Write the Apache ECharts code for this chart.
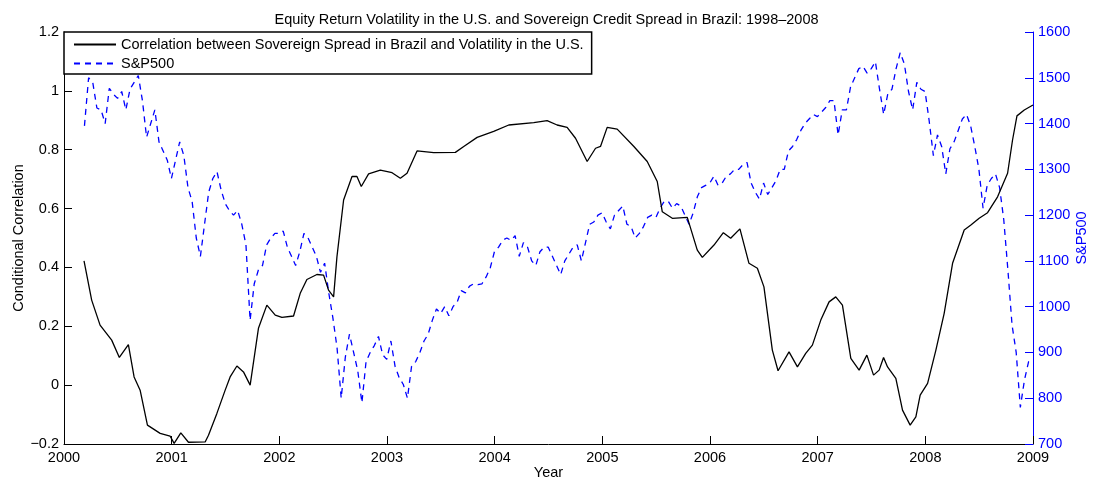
<!DOCTYPE html>
<html>
<head>
<meta charset="utf-8">
<title>Equity Return Volatility in the U.S. and Sovereign Credit Spread in Brazil</title>
<script src="https://cdn.jsdelivr.net/npm/echarts@6/dist/echarts.min.js"></script>
<style>
html, body { margin: 0; padding: 0; background: #fff; }
#chart { width: 1093px; height: 481px; }
</style>
</head>
<body>
<div id="chart"></div>
<script>
// conditional correlation (black solid line)
var corrYears = [
    2000.186, 2000.257, 2000.335, 2000.443, 2000.514, 2000.598, 2000.651, 2000.707, 2000.775, 2000.893,
    2000.985, 2001.023, 2001.085, 2001.156, 2001.311, 2001.342, 2001.420, 2001.497, 2001.543, 2001.606,
    2001.667, 2001.729, 2001.806, 2001.884, 2001.962, 2002.024, 2002.132, 2002.194, 2002.256, 2002.349,
    2002.411, 2002.457, 2002.504, 2002.535, 2002.597, 2002.675, 2002.721, 2002.761, 2002.829, 2002.938,
    2003.047, 2003.124, 2003.186, 2003.279, 2003.434, 2003.635, 2003.713, 2003.837, 2003.991, 2004.131,
    2004.363, 2004.487, 2004.580, 2004.673, 2004.751, 2004.859, 2004.937, 2004.983, 2005.045, 2005.138,
    2005.293, 2005.417, 2005.510, 2005.557, 2005.650, 2005.789, 2005.882, 2005.929, 2006.037, 2006.124,
    2006.192, 2006.278, 2006.362, 2006.440, 2006.501, 2006.579, 2006.632, 2006.734, 2006.812, 2006.889,
    2006.951, 2007.029, 2007.106, 2007.168, 2007.230, 2007.308, 2007.385, 2007.457, 2007.519, 2007.571,
    2007.612, 2007.649, 2007.726, 2007.788, 2007.859, 2007.912, 2007.952, 2008.021, 2008.098, 2008.175,
    2008.253, 2008.361, 2008.423, 2008.500, 2008.578, 2008.671, 2008.764, 2008.810, 2008.851, 2008.919,
    2009.000
];
var corrValues = [
    0.422, 0.289, 0.204, 0.153, 0.094, 0.138, 0.028, -0.017, -0.136, -0.164,
    -0.173, -0.198, -0.162, -0.194, -0.193, -0.170, -0.096, -0.017, 0.028, 0.065,
    0.045, 0.000, 0.193, 0.272, 0.238, 0.230, 0.235, 0.312, 0.359, 0.376,
    0.374, 0.323, 0.300, 0.436, 0.629, 0.709, 0.709, 0.675, 0.718, 0.731,
    0.722, 0.703, 0.720, 0.796, 0.790, 0.791, 0.811, 0.842, 0.862, 0.884,
    0.892, 0.899, 0.884, 0.876, 0.839, 0.760, 0.805, 0.811, 0.876, 0.870,
    0.811, 0.760, 0.692, 0.589, 0.567, 0.570, 0.459, 0.434, 0.476, 0.518,
    0.499, 0.531, 0.414, 0.397, 0.334, 0.119, 0.049, 0.113, 0.062, 0.108,
    0.136, 0.221, 0.283, 0.300, 0.272, 0.091, 0.051, 0.102, 0.034, 0.051,
    0.094, 0.062, 0.023, -0.085, -0.136, -0.108, -0.034, 0.006, 0.119, 0.244,
    0.414, 0.527, 0.544, 0.567, 0.586, 0.640, 0.720, 0.833, 0.915, 0.935,
    0.952
];

// S&P500 (blue dashed line), one reading every two weeks from March 2000
var spStart = 2000.19;
var spStep = 1 / 26;
var spValues = [
    // 2000
    1395, 1500, 1490, 1434, 1430, 1400, 1477, 1464, 1455, 1470, 1430, 1475, 1490, 1505, 1450, 1370,
    1400, 1430, 1360, 1340, 1320,
    // 2001
    1280, 1320, 1360, 1330, 1260, 1230, 1150, 1110, 1180, 1250, 1280, 1295, 1255, 1225, 1210, 1200,
    1210, 1180, 1135, 970, 1050, 1080, 1090, 1135, 1150, 1160,
    // 2002
    1160, 1165, 1130, 1110, 1090, 1120, 1160, 1150, 1130, 1110, 1075, 1095, 1030, 975, 910, 800,
    890, 940, 900, 860, 790, 880, 900, 915, 935, 895,
    // 2003
    885, 925, 870, 845, 830, 800, 870, 880, 900, 925, 940, 970, 995, 985, 1000, 980,
    1000, 1010, 1035, 1030, 1045, 1050, 1048, 1050, 1065, 1085,
    // 2004
    1120, 1130, 1145, 1150, 1145, 1155, 1110, 1140, 1130, 1100, 1090, 1120, 1130, 1130, 1110, 1090,
    1070, 1100, 1115, 1130, 1135, 1100, 1140, 1180, 1185, 1200,
    // 2005
    1205, 1185, 1170, 1200, 1210, 1220, 1180, 1175, 1150, 1160, 1175, 1195, 1200, 1195, 1215, 1230,
    1230, 1215, 1225, 1220, 1200, 1180, 1205, 1240, 1260, 1265,
    // 2006
    1270, 1285, 1265, 1270, 1285, 1290, 1300, 1300, 1310, 1315, 1270, 1250, 1235, 1270, 1245, 1260,
    1275, 1300, 1300, 1340, 1350, 1365, 1385, 1400, 1410, 1420,
    // 2007
    1415, 1425, 1435, 1450, 1450, 1375, 1430, 1430, 1480, 1500, 1520, 1525, 1510, 1520, 1535, 1475,
    1420, 1465, 1475, 1520, 1555, 1530, 1470, 1430, 1490, 1475,
    // 2008
    1470, 1405, 1330, 1375, 1350, 1290, 1345, 1360, 1385, 1410, 1420, 1395, 1350, 1300, 1215, 1265,
    1280, 1290, 1260, 1190, 1080, 960, 900, 780, 840, 880, 875
];

var corrLabel = 'Correlation between Sovereign Spread in Brazil and Volatility in the U.S.';
var spLabel = 'S&P500';

var font = '"Liberation Sans", Arial, Helvetica, sans-serif';
var fontSize = 14.5;
var blue = '#0000ff';

var corrData = corrYears.map(function(y, i) { return [y, corrValues[i]]; });
var spData = spValues.map(function(v, i) { return [spStart + i * spStep, v]; });

var chart = echarts.init(document.getElementById('chart'), null, { renderer: 'canvas' });

var option = {
    backgroundColor: '#fff',
    animation: false,
    textStyle: { fontFamily: font },
    title: {
        text: 'Equity Return Volatility in the U.S. and Sovereign Credit Spread in Brazil: 1998\u20132008',
        left: 'center',
        top: 7,
        textStyle: { fontFamily: font, fontSize: fontSize, fontWeight: 'normal', color: '#000' }
    },
    legend: {
        orient: 'vertical',
        left: 64,
        top: 32,
        padding: [5, 8, 3, 9],
        itemGap: 4,
        itemWidth: 42,
        itemHeight: 16,
        itemTextGap: 5,
        // hide the marker dot, keep only the line sample
        itemStyle: { opacity: 0 },
        backgroundColor: '#fff',
        borderColor: '#000',
        borderWidth: 1.5,
        borderRadius: 0,
        textStyle: { fontFamily: font, fontSize: fontSize, color: '#000' },
        data: [corrLabel, spLabel]
    },
    grid: { left: 64, right: 60, top: 32, bottom: 37, outerBoundsMode: 'none' },
    xAxis: {
        type: 'value',
        min: 2000,
        max: 2009,
        interval: 1,
        name: 'Year',
        nameLocation: 'middle',
        nameGap: 21,
        nameMoveOverlap: false,
        nameTextStyle: { fontFamily: font, fontSize: fontSize, color: '#000' },
        axisLine: { onZero: false, lineStyle: { color: '#000', width: 1 } },
        axisTick: { inside: true, length: 8, lineStyle: { color: '#000' } },
        axisLabel: {
            margin: 6,
            fontSize: fontSize,
            color: '#000',
            fontFamily: font,
            formatter: function(v) { return String(v); }
        },
        splitLine: { show: false }
    },
    yAxis: [
        {
            type: 'value',
            min: -0.2,
            max: 1.2,
            interval: 0.2,
            position: 'left',
            name: 'Conditional Correlation',
            nameLocation: 'middle',
            nameGap: 38,
            nameMoveOverlap: false,
            nameTextStyle: { fontFamily: font, fontSize: fontSize, color: '#000' },
            axisLine: { show: true, onZero: false, lineStyle: { color: '#000', width: 1 } },
            axisTick: { show: true, inside: true, length: 8, lineStyle: { color: '#000' } },
            axisLabel: {
                margin: 5,
                fontSize: fontSize,
                color: '#000',
                fontFamily: font,
                formatter: function(v) {
                    return String(Math.round(v * 10) / 10).replace('-', '\u2212');
                }
            },
            splitLine: { show: false }
        },
        {
            type: 'value',
            min: 700,
            max: 1600,
            interval: 100,
            position: 'right',
            name: 'S&P500',
            nameLocation: 'middle',
            nameGap: 41,
            nameRotate: 90,
            nameMoveOverlap: false,
            nameTextStyle: { fontFamily: font, fontSize: fontSize, color: blue },
            axisLine: { show: true, onZero: false, lineStyle: { color: blue, width: 1 } },
            axisTick: { show: true, inside: true, length: 8, lineStyle: { color: blue } },
            axisLabel: {
                margin: 5,
                fontSize: fontSize,
                color: blue,
                fontFamily: font,
                formatter: function(v) { return String(v); }
            },
            splitLine: { show: false }
        }
    ],
    series: [
        {
            name: corrLabel,
            type: 'line',
            yAxisIndex: 0,
            data: corrData,
            symbol: 'none',
            lineStyle: { color: '#000', width: 1.3 },
            itemStyle: { color: '#000' },
            z: 3
        },
        {
            name: spLabel,
            type: 'line',
            yAxisIndex: 1,
            data: spData,
            symbol: 'none',
            lineStyle: { color: blue, width: 1.3, type: [6, 5] },
            itemStyle: { color: blue },
            z: 2
        }
    ]
};

chart.setOption(option);
</script>
</body>
</html>
